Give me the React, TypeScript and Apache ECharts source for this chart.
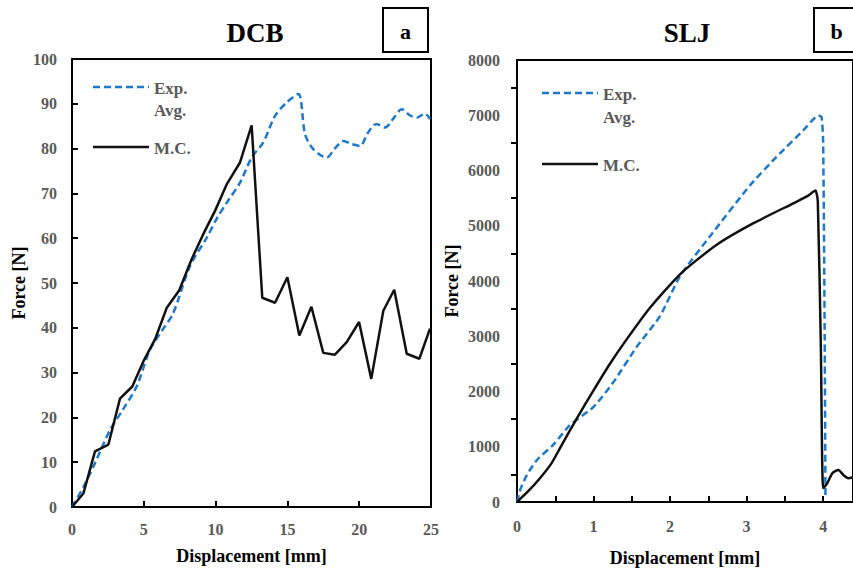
import React, { useEffect, useRef } from "react";
import * as echarts from "echarts";

// DCB (panel a)
const dcbMcX = [0, 0.79, 1.6, 2.53, 3.34, 4.2, 4.97, 5.78, 6.59, 7.47, 8.33, 9.14, 9.96, 10.77, 11.7, 12.51, 13.25, 14.14, 15.0, 15.83, 16.67, 17.5, 18.31, 19.13, 19.99, 20.84, 21.68, 22.44, 23.31, 24.19, 24.93];
const dcbMcY = [0, 3.0, 12.4, 13.9, 24.2, 26.9, 32.5, 37.4, 44.4, 48.4, 55.3, 60.9, 66.1, 72.0, 76.9, 85.2, 46.7, 45.6, 51.3, 38.3, 44.7, 34.4, 34.0, 36.8, 41.3, 28.6, 43.8, 48.5, 34.2, 33.1, 39.8];
const dcbExpX = [0, 0.8, 1.6, 2.65, 3.5, 4.5, 5.43, 6.3, 7.05, 8.22, 9.38, 10.1, 10.77, 11.7, 12.51, 13.32, 14.14, 14.95, 15.76, 16.23, 16.8, 17.73, 18.3, 18.9, 19.48, 20.06, 20.6, 21.2, 21.8, 22.4, 22.96, 23.5, 24.0, 24.58, 24.93];
const dcbExpY = [0, 4.5, 9.8, 17.2, 21.5, 26.9, 35.1, 39.5, 43.3, 53.8, 60.1, 64.5, 67.9, 72.4, 78.0, 81.4, 87.3, 90.3, 92.2, 83.2, 79.9, 78.0, 80.0, 81.7, 81.0, 80.6, 83.5, 85.5, 84.7, 86.8, 88.8, 87.5, 86.9, 87.8, 86.6];

// SLJ (panel b)
const sljMcX = [0, 0.15, 0.3, 0.45, 0.56, 0.78, 1.0, 1.2, 1.4, 1.74, 2.15, 2.61, 3.09, 3.61, 3.8, 3.87, 3.9, 3.93, 3.97, 4.0, 4.05, 4.12, 4.2, 4.27, 4.33, 4.39];
const sljMcY = [0, 200, 431, 700, 971, 1510, 2020, 2470, 2880, 3520, 4148, 4657, 5047, 5407, 5540, 5615, 5640, 5450, 2800, 252, 330, 520, 581, 480, 431, 450];
const sljExpX = [0, 0.05, 0.13, 0.26, 0.47, 0.69, 1.0, 1.26, 1.56, 1.87, 2.13, 2.52, 3.05, 3.39, 3.74, 3.94, 3.98, 4.0, 4.02, 4.03];
const sljExpY = [0, 250, 491, 761, 1030, 1390, 1720, 2170, 2800, 3368, 4088, 4806, 5740, 6245, 6725, 6994, 6964, 6500, 3000, 120];

const dcbXTicks = [0, 25, 5];
const dcbYTicks = [0, 100, 10];
const sljXTicks = [0, 4.39, 1];
const sljYTicks = [0, 8000, 1000];

const zip = (xs: number[], ys: number[]) => xs.map((x, i) => [x, ys[i]]);

const FONT = "'Liberation Serif', 'Times New Roman', serif";
const GRAY = "#595959";
const BLUE = "#1f78c8";

export default function App() {
  const ref = useRef<HTMLDivElement>(null);
  useEffect(() => {
    if (!ref.current) return;
    const chart = echarts.init(ref.current, null, { renderer: "svg" });
    const axisLabel = { color: GRAY, fontFamily: FONT, fontWeight: "bold" as const, fontSize: 16 };
    const nameStyle = { color: "#000", fontFamily: FONT, fontWeight: "bold" as const, fontSize: 18 };
    const legendText = (x: number, y: number, t: string) => ({
      type: "text", x, y,
      style: { text: t, fill: GRAY, font: `bold 17px ${FONT}`, textVerticalAlign: "middle" },
    });
    chart.setOption({
      animation: false,
      grid: [
        { left: 72, top: 59, width: 359, height: 448, show: true, borderColor: "#000", borderWidth: 2, backgroundColor: "transparent" },
        { left: 517, top: 60, right: 0, height: 444, show: true, borderColor: "#000", borderWidth: 2, backgroundColor: "transparent" },
      ],
      xAxis: [
        {
          type: "value", gridIndex: 0, min: dcbXTicks[0], max: dcbXTicks[1], interval: dcbXTicks[2],
          name: "Displacement [mm]", nameLocation: "middle", nameGap: 40, nameTextStyle: nameStyle,
          axisLine: { show: true, lineStyle: { color: "#000", width: 2 } },
          axisTick: { show: true, inside: true, length: 6, lineStyle: { color: "#000", width: 2 } },
          axisLabel: { ...axisLabel, margin: 14 },
          splitLine: { show: false },
        },
        {
          type: "value", gridIndex: 1, min: sljXTicks[0], max: sljXTicks[1], interval: sljXTicks[2],
          name: "Displacement [mm]", nameLocation: "middle", nameGap: 47, nameTextStyle: nameStyle,
          axisLine: { show: true, lineStyle: { color: "#000", width: 2 } },
          axisTick: { show: true, inside: true, length: 6, lineStyle: { color: "#000", width: 2 } },
          minorTick: { show: true, splitNumber: 2, length: 6, lineStyle: { color: "#000", width: 2 } },
          axisLabel: { ...axisLabel, margin: 16, showMaxLabel: false },
          splitLine: { show: false },
        },
      ],
      yAxis: [
        {
          type: "value", gridIndex: 0, min: dcbYTicks[0], max: dcbYTicks[1], interval: dcbYTicks[2],
          name: "Force [N]", nameLocation: "middle", nameGap: 44, nameRotate: 90, nameTextStyle: nameStyle,
          axisLine: { show: true, lineStyle: { color: "#000", width: 2 } },
          axisTick: { show: true, inside: true, length: 6, lineStyle: { color: "#000", width: 2 } },
          axisLabel: { ...axisLabel, margin: 15 },
          splitLine: { show: false },
        },
        {
          type: "value", gridIndex: 1, min: sljYTicks[0], max: sljYTicks[1], interval: sljYTicks[2],
          name: "Force [N]", nameLocation: "middle", nameGap: 56, nameRotate: 90, nameTextStyle: nameStyle,
          axisLine: { show: true, lineStyle: { color: "#000", width: 2 } },
          axisTick: { show: false },
          minorTick: { show: true, splitNumber: 2, length: 6, lineStyle: { color: "#000", width: 2 } },
          axisLabel: { ...axisLabel, margin: 17, formatter: (v: number) => String(v) },
          splitLine: { show: false },
        },
      ],
      series: [
        {
          type: "line", name: "Exp. Avg.", xAxisIndex: 0, yAxisIndex: 0, data: zip(dcbExpX, dcbExpY),
          showSymbol: false, smooth: 0.3, lineStyle: { color: BLUE, width: 2.5, type: [7, 4] }, z: 3,
        },
        {
          type: "line", name: "M.C.", xAxisIndex: 0, yAxisIndex: 0, data: zip(dcbMcX, dcbMcY),
          showSymbol: false, lineStyle: { color: "#111", width: 2.5 }, z: 4,
        },
        {
          type: "line", name: "Exp. Avg.", xAxisIndex: 1, yAxisIndex: 1, data: zip(sljExpX, sljExpY),
          showSymbol: false, smooth: 0.2, lineStyle: { color: BLUE, width: 2.5, type: [7, 4] }, z: 3,
        },
        {
          type: "line", name: "M.C.", xAxisIndex: 1, yAxisIndex: 1, data: zip(sljMcX, sljMcY),
          showSymbol: false, smooth: 0.2, lineStyle: { color: "#111", width: 2.5 }, z: 4,
        },
      ],
      graphic: [
        { type: "text", x: 255, y: 33, style: { text: "DCB", fill: "#000", font: `bold 27px ${FONT}`, textAlign: "center", textVerticalAlign: "middle" } },
        { type: "text", x: 687, y: 33, style: { text: "SLJ", fill: "#000", font: `bold 27px ${FONT}`, textAlign: "center", textVerticalAlign: "middle" } },
        { type: "rect", shape: { x: 383, y: 8, width: 45, height: 44 }, style: { fill: "#fff", stroke: "#000", lineWidth: 2 } },
        { type: "text", x: 405.5, y: 31, style: { text: "a", fill: "#000", font: `bold 22px ${FONT}`, textAlign: "center", textVerticalAlign: "middle" } },
        { type: "rect", shape: { x: 814, y: 8, width: 45, height: 44 }, style: { fill: "#fff", stroke: "#000", lineWidth: 2 } },
        { type: "text", x: 836.5, y: 31, style: { text: "b", fill: "#000", font: `bold 22px ${FONT}`, textAlign: "center", textVerticalAlign: "middle" } },
        // legend panel a
        { type: "line", shape: { x1: 93, y1: 87, x2: 149, y2: 87 }, style: { stroke: BLUE, lineWidth: 2.5, lineDash: [7, 4] } },
        legendText(154, 88, "Exp."),
        legendText(154, 110, "Avg."),
        { type: "line", shape: { x1: 93, y1: 147, x2: 149, y2: 147 }, style: { stroke: "#111", lineWidth: 2.5 } },
        legendText(154, 148, "M.C."),
        // legend panel b
        { type: "line", shape: { x1: 542, y1: 93, x2: 598, y2: 93 }, style: { stroke: BLUE, lineWidth: 2.5, lineDash: [7, 4] } },
        legendText(603, 94, "Exp."),
        legendText(603, 117, "Avg."),
        { type: "line", shape: { x1: 542, y1: 164, x2: 598, y2: 164 }, style: { stroke: "#111", lineWidth: 2.5 } },
        legendText(603, 165, "M.C."),
      ],
    });
    return () => chart.dispose();
  }, []);
  return <div ref={ref} style={{ width: 853, height: 572, position: "absolute", left: 0, top: 0, background: "#fff" }} />;
}
